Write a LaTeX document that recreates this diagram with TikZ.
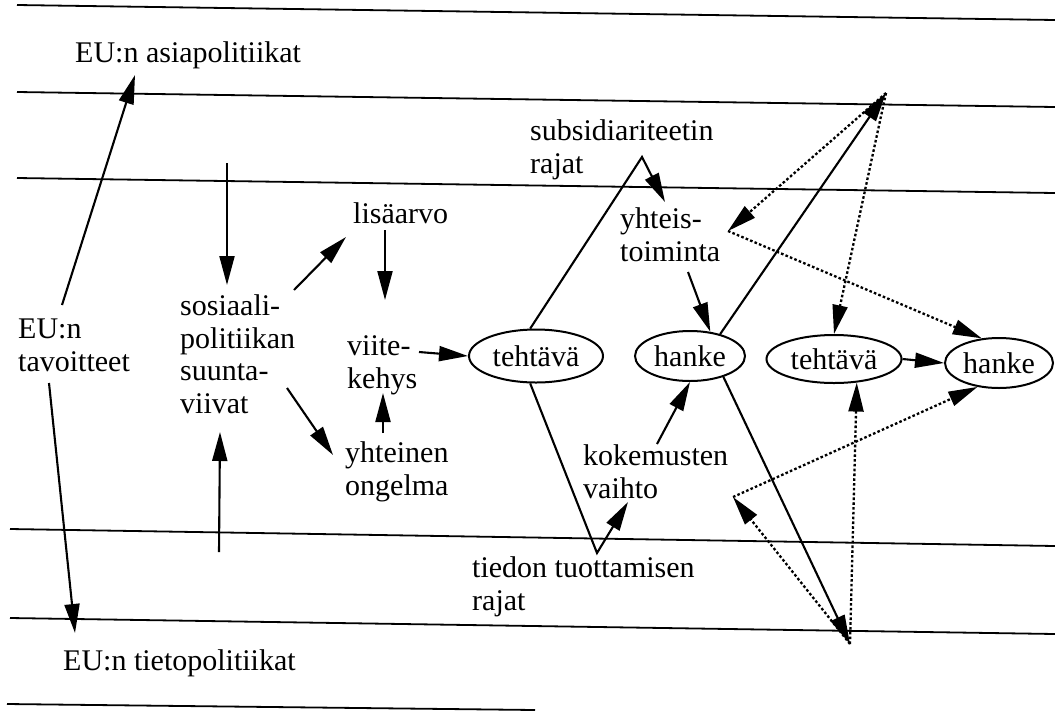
\documentclass[tikz,border=0pt]{standalone}
\usepackage{fontspec}
\setmainfont{Liberation Serif}
\usetikzlibrary{arrows.meta,shapes.geometric}
\begin{document}
\begin{tikzpicture}[x=1pt,y=-1pt,
  txt/.style={anchor=base west, inner sep=0pt, align=left, font=\fontsize{30}{32.5}\selectfont},
  oval/.style={ellipse, draw, line width=2pt, inner sep=0pt, font=\fontsize{30}{32.5}\selectfont},
  arr/.style={line width=2.1pt, -{Triangle[length=29pt,width=15pt]}},
  dotarr/.style={line width=2.3pt, dash pattern=on 2.6pt off 2.2pt, -{Triangle[length=29pt,width=15pt]}},
  rule/.style={line width=1.8pt}]
\useasboundingbox (0,0) rectangle (1055,713);
\fill[white] (0,0) rectangle (1055,713);
% horizontal rules
\draw[rule] (17,5) -- (1055,20);
\draw[rule] (17,92) -- (1055,107);
\draw[rule] (17,178) -- (1055,193);
\draw[rule] (10,529) -- (1055,546);
\draw[rule] (10,618) -- (1055,634);
\draw[rule] (7,704) -- (535,710);
% text nodes (base = baseline of the last line)
\node[txt] (asiapol) at (75,62) {EU:n asiapolitiikat};
\node[txt] (tav) at (18,371) {EU:n\\tavoitteet};
\node[txt] (tietopol) at (63,670) {EU:n tietopolitiikat};
\node[txt] (sos) at (180,413) {sosiaali-\\politiikan\\suunta-\\viivat};
\node[txt] (lis) at (353,223) {lisäarvo};
\node[txt] (viite) at (347,388) {viite-\\kehys};
\node[txt] (yht) at (345,495) {yhteinen\\ongelma};
\node[txt] (subs) at (530,173) {subsidiariteetin\\rajat};
\node[txt] (yhteis) at (620,261) {yhteis-\\toiminta};
\node[txt] (kok) at (583,498) {kokemusten\\vaihto};
\node[txt] (tied) at (472,610) {tiedon tuottamisen\\rajat};
% ellipses
\node[oval, minimum width=134pt, minimum height=53pt] (e1) at (536,356) {tehtävä};
\node[oval, minimum width=110pt, minimum height=50pt] (e2) at (690,356) {hanke};
\node[oval, minimum width=135pt, minimum height=48pt] (e3) at (834,359) {tehtävä};
\node[oval, minimum width=108pt, minimum height=50pt] (e4) at (999,363) {hanke};
% free points
\coordinate (ptop) at (886,93);
\coordinate (pbot) at (850,644);
\coordinate (apexa) at ([shift={(112,-16)}]subs.base west);
\coordinate (apexb) at ([shift={(125,-57)}]tied.base west);
\coordinate (qtop) at ([shift={(108,-30)}]yhteis.base west);
\coordinate (qbot) at ([shift={(150,-1)}]kok.base west);
\coordinate (sa) at (227,163);
\coordinate (sb) at (219,552);
% solid connectors
\draw[arr] ([shift={(44,-66)}]tav.base west) -- ([shift={(60,13)}]asiapol.base west);
\draw[arr] ([shift={(31,12)}]tav.base west) -- ([shift={(12,-37)}]tietopol.base west);
\draw[arr] (sa) -- ([shift={(47,-128)}]sos.base west);
\draw[arr] (sb) -- ([shift={(40,19)}]sos.base west);
\draw[arr] ([shift={(114,-123)}]sos.base west) -- ([shift={(-7,14)}]lis.base west);
\draw[arr] ([shift={(107,-25)}]sos.base west) -- ([shift={(-12,-40)}]yht.base west);
\draw[arr] ([shift={(32,7)}]lis.base west) -- ([shift={(38,-88)}]viite.base west);
\draw[arr] ([shift={(38,-62)}]yht.base west) -- ([shift={(36,5)}]viite.base west);
\draw[arr] ([shift={(72,-36)}]viite.base west) -- (e1.west);
\draw[arr] (e1.102) -- (apexa) -- ([shift={(45,-59)}]yhteis.base west);
\draw[arr] ([shift={(68,11)}]yhteis.base west) -- (e2.50);
\draw[arr] (e2.36) -- (ptop);
\draw[arr] (e1.-102) -- (apexb) -- ([shift={(45,4)}]kok.base west);
\draw[arr] ([shift={(74,-54)}]kok.base west) -- (e2.south);
\draw[arr] (e2.-32) -- (pbot);
\draw[arr] (e3.east) -- (e4.west);
% dotted connectors
\draw[dotarr] (ptop) -- (qtop);
\draw[dotarr] (qtop) -- (e4.125);
\draw[dotarr] (ptop) -- (e3.north);
\draw[dotarr] (pbot) -- (qbot);
\draw[dotarr] (qbot) -- (e4.-132);
\draw[dotarr] (pbot) -- (e3.-46);
\end{tikzpicture}
\end{document}
